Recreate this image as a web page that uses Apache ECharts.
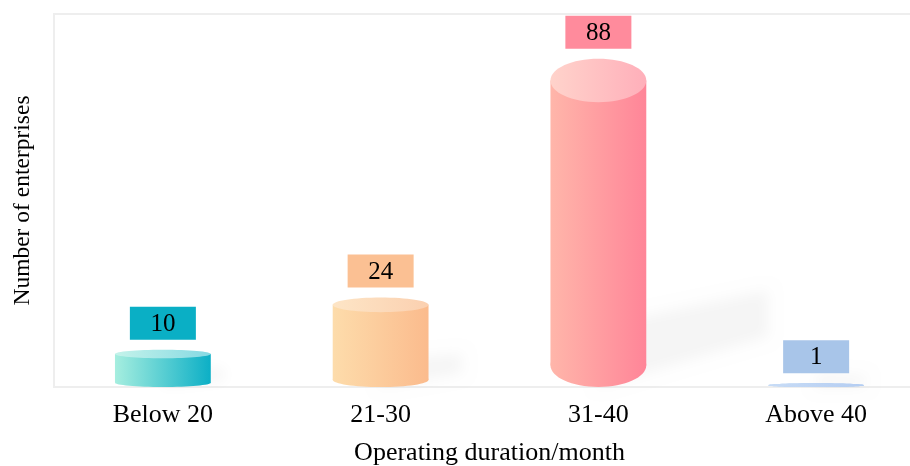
<!DOCTYPE html>
<html>
<head>
<meta charset="utf-8">
<script src="https://cdn.jsdelivr.net/npm/echarts@6/dist/echarts.min.js"></script>
<style>
  html, body { margin: 0; padding: 0; background: #fff; }
  #chart { width: 910px; height: 466px; }
</style>
</head>
<body>
<div id="chart"></div>
<script>
// Enterprises grouped by operating duration (months)
const categories = ['Below 20', '21-30', '31-40', 'Above 40'];
const enterpriseCounts = [10, 24, 88, 1];

// Per-bar palette: body gradient (left → right), cap gradient, label box fill
const bodyLeft  = ['#a6eedf', '#fddcab', '#ffb6aa', '#b0cff2'];
const bodyRight = ['#0cafc6', '#fbbb8d', '#ff8598', '#9fc0ee'];
const capLeft   = ['#c4f3ea', '#fde5c6', '#ffd3cb', '#c8dcf6'];
const capRight  = ['#86d9e3', '#fbd0b0', '#ffafba', '#b4cdf2'];
const labelFill = ['#0aafc5', '#fbc093', '#ff8b9c', '#a8c5e9'];

const serif = '"Liberation Serif", "Times New Roman", "DejaVu Serif", serif';

function hGrad(a, b, mid) {
  const stops = [{ offset: 0, color: a }];
  if (mid) stops.push({ offset: 0.65, color: mid });
  stops.push({ offset: 1, color: b });
  return new echarts.graphic.LinearGradient(0, 0, 1, 0, stops);
}

function renderCylinder(params, api) {
  const i = api.value(0);
  const v = api.value(1);
  const top = api.coord([i, v]);
  const base = api.coord([i, 0]);
  const band = api.size([1, 0])[0];
  const w = band * 0.44;
  const cx = top[0];
  const h = base[1] - top[1];
  const ry = Math.min(2 + 0.06 * h, h / 2);
  const rx = w / 2;

  const topCy = top[1] + ry;
  const botCy = base[1] - ry;

  // ground shadow, cast towards the upper right and blurred
  const T = 0.15 * h + 12;
  const tipX = cx + rx + 0.37 * h;
  const tipY = base[1] - 0.22 * h - 6;
  const off = 3000;
  const shadow = {
    type: 'polygon',
    shape: {
      points: [
        [cx - off, base[1]],
        [cx - off, base[1] - T],
        [tipX - off, tipY - T * 0.3],
        [tipX - off, tipY + T * 0.45]
      ]
    },
    style: {
      fill: 'rgba(0,0,0,0.2)',
      shadowBlur: 14,
      shadowColor: 'rgba(0,0,0,0.2)',
      shadowOffsetX: off,
      shadowOffsetY: 0
    },
    silent: true
  };

  const children = [shadow];

  children.push({
    type: 'ellipse',
    shape: { cx: cx, cy: botCy, rx: rx, ry: ry },
    style: { fill: hGrad(bodyLeft[i], bodyRight[i]) }
  });
  children.push({
    type: 'rect',
    shape: { x: cx - rx, y: topCy, width: w, height: Math.max(botCy - topCy, 0) },
    style: { fill: hGrad(bodyLeft[i], bodyRight[i]) }
  });
  children.push({
    type: 'ellipse',
    shape: { cx: cx, cy: topCy, rx: rx, ry: ry },
    style: { fill: hGrad(capLeft[i], capRight[i]) }
  });

  // value tag above each cylinder
  const boxW = 66, boxH = 33, gap = 10;
  children.push({
    type: 'rect',
    shape: { x: cx - boxW / 2, y: top[1] - gap - boxH, width: boxW, height: boxH },
    style: { fill: labelFill[i] }
  });
  children.push({
    type: 'text',
    style: {
      text: String(v),
      x: cx,
      y: top[1] - gap - boxH / 2 + 1,
      align: 'center',
      verticalAlign: 'middle',
      font: '25px ' + serif,
      fill: '#000'
    }
  });

  return { type: 'group', children: children };
}

const chart = echarts.init(document.getElementById('chart'), null, { renderer: 'canvas' });

chart.setOption({
  animation: false,
  backgroundColor: '#fff',
  grid: {
    left: 54,
    top: 14,
    width: 871,
    height: 373,
    outerBoundsMode: 'none',
    containLabel: false,
    show: true,
    borderColor: '#eeeeee',
    borderWidth: 2,
    backgroundColor: 'transparent'
  },
  xAxis: {
    type: 'category',
    data: categories,
    name: 'Operating duration/month',
    nameLocation: 'middle',
    nameGap: 53,
    nameTextStyle: { fontFamily: serif, fontSize: 26, color: '#000' },
    axisLine: { show: true, lineStyle: { color: '#eeeeee', width: 2 } },
    axisTick: { show: false },
    axisLabel: { fontFamily: serif, fontSize: 26, color: '#000', margin: 15 },
    splitLine: { show: false }
  },
  yAxis: {
    type: 'value',
    min: 0,
    max: 100,
    name: 'Number of enterprises',
    nameLocation: 'middle',
    nameGap: 19,
    nameTextStyle: { fontFamily: serif, fontSize: 23.5, color: '#000' },
    axisLine: { show: false },
    axisTick: { show: false },
    axisLabel: { show: false },
    splitLine: { show: false }
  },
  series: [{
    type: 'custom',
    renderItem: renderCylinder,
    encode: { x: 0, y: 1 },
    data: enterpriseCounts.map((v, i) => [i, v]),
    clip: false
  }]
});
</script>
</body>
</html>
